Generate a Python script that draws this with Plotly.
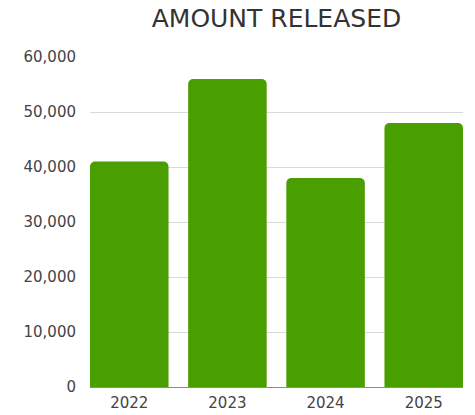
import plotly.graph_objects as go

years = ["2022", "2023", "2024", "2025"]
amounts = [41000, 56000, 38000, 48000]
y_ticks = [0, 10000, 20000, 30000, 40000, 50000, 60000]
y_tick_labels = ["0", "10,000", "20,000", "30,000", "40,000", "50,000", "60,000"]

fig = go.Figure(
    go.Bar(
        x=years,
        y=amounts,
        marker=dict(color="#499E00", line=dict(width=0)),
        hoverinfo="x+y",
    )
)

fig.update_layout(
    width=475,
    height=415,
    margin=dict(l=90, r=12, t=57, b=28),
    paper_bgcolor="white",
    plot_bgcolor="white",
    bargap=0.2,
    barcornerradius=5,
    showlegend=False,
    font=dict(family="DejaVu Sans", color="#444444", size=15),
    title=dict(
        text="AMOUNT RELEASED",
        x=0.582,
        xanchor="center",
        y=0.955,
        yanchor="middle",
        font=dict(family="DejaVu Sans", size=25, color="#333333"),
    ),
)

fig.update_yaxes(
    range=[0, 60000],
    tickvals=y_ticks,
    ticktext=y_tick_labels,
    showgrid=True,
    gridcolor="#d9d9d9",
    gridwidth=1,
    zeroline=False,
    showline=False,
    ticks="",
    ticklabelstandoff=13,
    automargin=False,
    tickfont=dict(size=15, color="#444444"),
)

fig.update_xaxes(
    range=[-0.4, 3.4],
    showline=True,
    linecolor="#8c8c8c",
    linewidth=1,
    ticks="",
    automargin=False,
    ticklabelstandoff=2,
    tickfont=dict(size=15, color="#444444"),
)

fig.write_html("out.html")
